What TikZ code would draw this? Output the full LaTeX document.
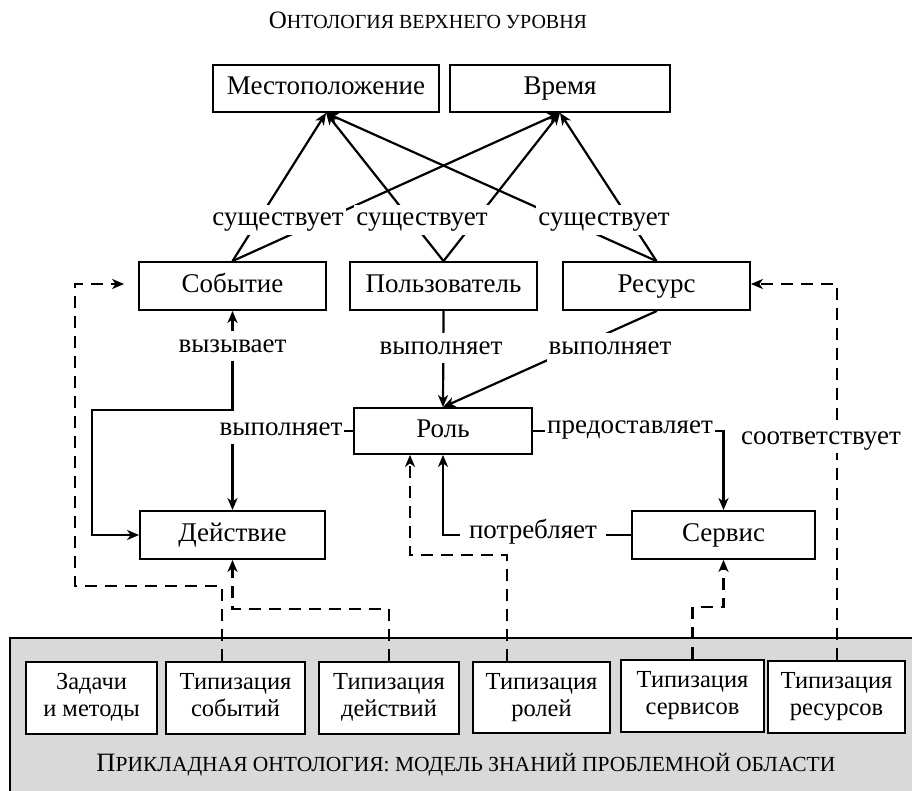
\documentclass[tikz,border=0pt]{standalone}
\usepackage{fontspec}
\setmainfont{Liberation Serif}
\usetikzlibrary{arrows.meta,calc}
\definecolor{bg}{HTML}{D9D9D9}
\newcommand\bigsc[2]{{\fontsize{#1}{#1}\selectfont #2}}
\newcommand\twol[2]{\strut #1\\\strut #2}
\begin{document}
\begin{tikzpicture}[x=1pt,y=-1pt,
 box/.style={draw,line width=1.8pt,fill=white,inner sep=0pt,text height=18pt,text depth=5pt,font=\fontsize{27}{30}\selectfont},
 bbox/.style={draw,line width=1.8pt,fill=white,inner sep=0pt,align=center,font=\fontsize{24.5}{27}\selectfont},
 lbl/.style={fill=white,inner xsep=2pt,inner ysep=0pt,text height=21pt,text depth=9pt,font=\fontsize{27}{30}\selectfont},
 conn/.style={line width=2.2pt,-{Stealth[length=12pt,width=10pt,inset=3.5pt]}},
 both/.style={line width=2.2pt,{Stealth[length=12pt,width=10pt,inset=3.5pt]}-{Stealth[length=12pt,width=10pt,inset=3.5pt]}},
 dsh/.style={conn,dash pattern=on 12pt off 8pt},
]
\useasboundingbox (0,0) rectangle (912,791);
% application ontology background
\draw[line width=1.8pt,fill=bg] (10,638) rectangle (940,820);
% titles
\node[font=\fontsize{20}{22}\selectfont] (title) at (428,20) {\bigsc{25}{О}НТОЛОГИЯ ВЕРХНЕГО УРОВНЯ};
\node[font=\fontsize{21.5}{24}\selectfont] (apptitle) at (466,765) {\bigsc{26.5}{П}РИКЛАДНАЯ ОНТОЛОГИЯ: МОДЕЛЬ ЗНАНИЙ ПРОБЛЕМНОЙ ОБЛАСТИ};
% upper ontology nodes
\node[box,minimum width=226pt,minimum height=47pt] (loc) at (326,88.5) {Местоположение};
\node[box,minimum width=220pt,minimum height=47pt] (time) at (560,88.5) {Время};
\node[box,minimum width=187pt,minimum height=48pt] (event) at (232.5,286) {Событие};
\node[box,minimum width=187pt,minimum height=48pt] (user) at (443.5,286) {Пользователь};
\node[box,minimum width=187pt,minimum height=48pt] (res) at (656.5,286) {Ресурс};
\node[box,minimum width=178pt,minimum height=46pt] (role) at (443,431) {Роль};
\node[box,minimum width=185pt,minimum height=48pt] (action) at (232.5,535) {Действие};
\node[box,minimum width=183pt,minimum height=48pt] (service) at (723.5,535) {Сервис};
% application ontology nodes
\node[bbox,minimum width=131pt,minimum height=72pt] (b1) at (91.5,698) {\twol{Задачи}{и методы}};
\node[bbox,minimum width=139pt,minimum height=72pt] (b2) at (235.5,698) {\twol{Типизация}{событий}};
\node[bbox,minimum width=140pt,minimum height=72pt] (b3) at (389,698) {\twol{Типизация}{действий}};
\node[bbox,minimum width=137pt,minimum height=71pt] (b4) at (541.5,697.5) {\twol{Типизация}{ролей}};
\node[bbox,minimum width=143pt,minimum height=72pt] (b5) at (692.5,696) {\twol{Типизация}{сервисов}};
\node[bbox,minimum width=137pt,minimum height=72pt] (b6) at (836.5,697) {\twol{Типизация}{ресурсов}};
% exists
\foreach \s in {event,user,res}{
  \draw[conn] (\s.north) -- (loc.south);
  \draw[conn] (\s.north) -- (time.south);
}
\node[lbl] (ex1) at (278,220) {существует};
\node[lbl] (ex2) at (422,220) {существует};
\node[lbl] (ex3) at (604,220) {существует};
% performs
\draw[conn] (user.south) -- (role.north);
\draw[conn] ([xshift=0.5pt]res.south) -- (role.north);
\node[lbl] (pf1) at (441,348) {выполняет};
\node[lbl] (pf2) at (610,348) {выполняет};
% causes
\coordinate (cz) at (92,410);
\draw[both] (action.west) -| (cz) -| (event.south);
\node[lbl] (cause) at (232.5,346) {вызывает};
% role performs action
\draw[conn] (role.west) -| (action.north);
\node[lbl] (pf3) at (281,429) {выполняет};
% role provides service
\draw[conn] (role.east) -| (service.north);
\node[lbl] (prov) at (630,427) {предоставляет};
% role consumes service
\draw[conn] (service.west) -| (role.south);
\node[lbl,inner xsep=9pt] (cons) at (533,532) {потребляет};
% dashed links
\draw[dsh] ([xshift=-13.5pt]b2.north) |- (75,586) |- ([xshift=-14pt,yshift=2pt]event.west);
\draw[dsh] (b3.north) -- ++(0,-52) -| (action.south);
\draw[dsh] ([xshift=-34.5pt]b4.north) -- ++(0,-106) -| ([xshift=-33pt]role.south);
\draw[dsh] (b5.north) -- ++(0,-52) -| (service.south);
\draw[dsh] ([xshift=0.5pt]b6.north) |- ([yshift=2pt]res.east);
\node[lbl] (corr) at (821,438) {соответствует};
\end{tikzpicture}
\end{document}
